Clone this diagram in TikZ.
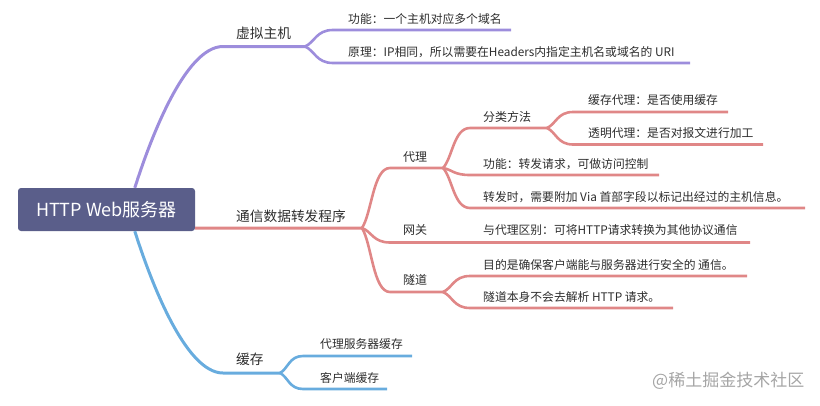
\documentclass[tikz,border=0pt]{standalone}
\usepackage{fontspec}
\setmainfont{Noto Sans CJK SC}
\usetikzlibrary{calc}
\definecolor{cpur}{RGB}{157,141,220}
\definecolor{cred}{RGB}{224,135,135}
\definecolor{cblu}{RGB}{104,172,222}
\definecolor{croot}{RGB}{90,94,138}
\definecolor{ctxt}{RGB}{45,45,45}
\definecolor{cwm}{RGB}{165,165,165}
% style, fork, start of underline, end of underline
\newcommand\mmlink[4]{%
  \draw[#1] (#2) let \p1=(#2), \p2=(#3) in
    .. controls ({\x1+0.35*(\x2-\x1)},{\y1+0.25*(\y2-\y1)}) and ({\x2-0.6*(\x2-\x1)},\y2) .. (\p2) -- (#4);}
\begin{document}
\begin{tikzpicture}[x=1pt,y=-1pt,
  lvlA/.style={line width=3pt},
  lvlB/.style={line width=2.6pt},
  rootbox/.style={fill=croot,rounded corners=3pt,text=white,inner sep=0pt,
    minimum width=177pt,minimum height=43pt,font=\fontsize{18}{20}\selectfont},
  lab1/.style={anchor=west,inner sep=0pt,text=ctxt,font=\fontsize{13.7}{15}\selectfont},
  lab2/.style={anchor=west,inner sep=0pt,text=ctxt,font=\fontsize{12}{14}\selectfont},
  lab3/.style={anchor=west,inner sep=0pt,text=ctxt,font=\fontsize{11.8}{14}\selectfont},
  wm/.style={anchor=west,inner sep=0pt,text=cwm,font=\fontsize{17}{19}\selectfont}]
\useasboundingbox (0,0) rectangle (820,405);

% root
\node[rootbox] (root) at (106.5,209.5) {HTTP Web服务器};
\coordinate (rP) at ($(root.north west)+(117,0)$);
\coordinate (rB) at ($(root.south west)+(117,0)$);
\coordinate (rR) at ($(root.south east)+(0,-3)$);

% ---------- purple: 虚拟主机
\coordinate (vS) at (223,46.5);
\coordinate (vF) at (305,46.5);
\draw[cpur,lvlA] (rP) .. controls (150,140) and (185,46.5) .. (vS) -- (vF);
\node[lab1] (v) at (236,33) {虚拟主机};
\coordinate (v1s) at (333,30);   \coordinate (v1e) at (511,30);
\coordinate (v2s) at (333,63);   \coordinate (v2e) at (690,63);
\mmlink{cpur,lvlB}{vF}{v1s}{v1e}
\mmlink{cpur,lvlB}{vF}{v2s}{v2e}
\node[lab3] (v1) at (348,19) {功能：一个主机对应多个域名};
\node[lab3] (v2) at (348,52) {原理：IP相同，所以需要在Headers内指定主机名或域名的 URI};

% ---------- red: 通信数据转发程序
\coordinate (tF) at (362,228);
\draw[cred,lvlA] (rR) -- (tF);
\node[lab1] (t) at (236,216) {通信数据转发程序};

% 代理
\coordinate (dS) at (390,168);  \coordinate (dF) at (443,168);
\mmlink{cred,lvlB}{tF}{dS}{dF}
\node[lab2] (d) at (403,157) {代理};
% 网关
\coordinate (gS) at (390,242.5); \coordinate (gE) at (750,242.5);
\mmlink{cred,lvlB}{tF}{gS}{gE}
\node[lab2] (g) at (403,230) {网关};
\node[lab3] (g1) at (483,230) {与代理区别：可将HTTP请求转换为其他协议通信};
% 隧道
\coordinate (sS) at (390,292);  \coordinate (sF) at (443,292);
\mmlink{cred,lvlB}{tF}{sS}{sF}
\node[lab2] (s) at (403,280) {隧道};
\coordinate (s1s) at (470,276); \coordinate (s1e) at (747,276);
\coordinate (s2s) at (470,308); \coordinate (s2e) at (673,308);
\mmlink{cred,lvlB}{sF}{s1s}{s1e}
\mmlink{cred,lvlB}{sF}{s2s}{s2e}
\node[lab3] (s1) at (483,265) {目的是确保客户端能与服务器进行安全的 通信。};
\node[lab3] (s2) at (483,297) {隧道本身不会去解析 HTTP 请求。};

% 代理 children
\coordinate (fS) at (470,128);  \coordinate (fF) at (547,128);
\mmlink{cred,lvlB}{dF}{fS}{fF}
\node[lab2] (f) at (483,117) {分类方法};
\coordinate (f1s) at (573,112);   \coordinate (f1e) at (728,112);
\coordinate (f2s) at (573,144.5); \coordinate (f2e) at (763,144.5);
\mmlink{cred,lvlB}{fF}{f1s}{f1e}
\mmlink{cred,lvlB}{fF}{f2s}{f2e}
\node[lab3] (f1) at (588,100) {缓存代理：是否使用缓存};
\node[lab3] (f2) at (588,133) {透明代理：是否对报文进行加工};
\coordinate (d2s) at (470,175); \coordinate (d2e) at (659,175);
\coordinate (d3s) at (470,208); \coordinate (d3e) at (805,208);
\mmlink{cred,lvlB}{dF}{d2s}{d2e}
\mmlink{cred,lvlB}{dF}{d3s}{d3e}
\node[lab3] (d2) at (483,164.5) {功能：转发请求，可做访问控制};
\node[lab3] (d3) at (483,197) {转发时，需要附加 Via 首部字段以标记出经过的主机信息。};

% ---------- blue: 缓存
\coordinate (cS) at (223,373);
\coordinate (cF) at (280,373);
\draw[cblu,lvlA] (rB) .. controls (150,279) and (185,373) .. (cS) -- (cF);
\node[lab1] (c) at (236,359) {缓存};
\coordinate (c1s) at (303,356); \coordinate (c1e) at (412,356);
\coordinate (c2s) at (303,389); \coordinate (c2e) at (387,389);
\mmlink{cblu,lvlB}{cF}{c1s}{c1e}
\mmlink{cblu,lvlB}{cF}{c2s}{c2e}
\node[lab3] (c1) at (320,344) {代理服务器缓存};
\node[lab3] (c2) at (320,378) {客户端缓存};

% watermark
\node[wm] (wmk) at (652,381) {@稀土掘金技术社区};
\end{tikzpicture}
\end{document}
